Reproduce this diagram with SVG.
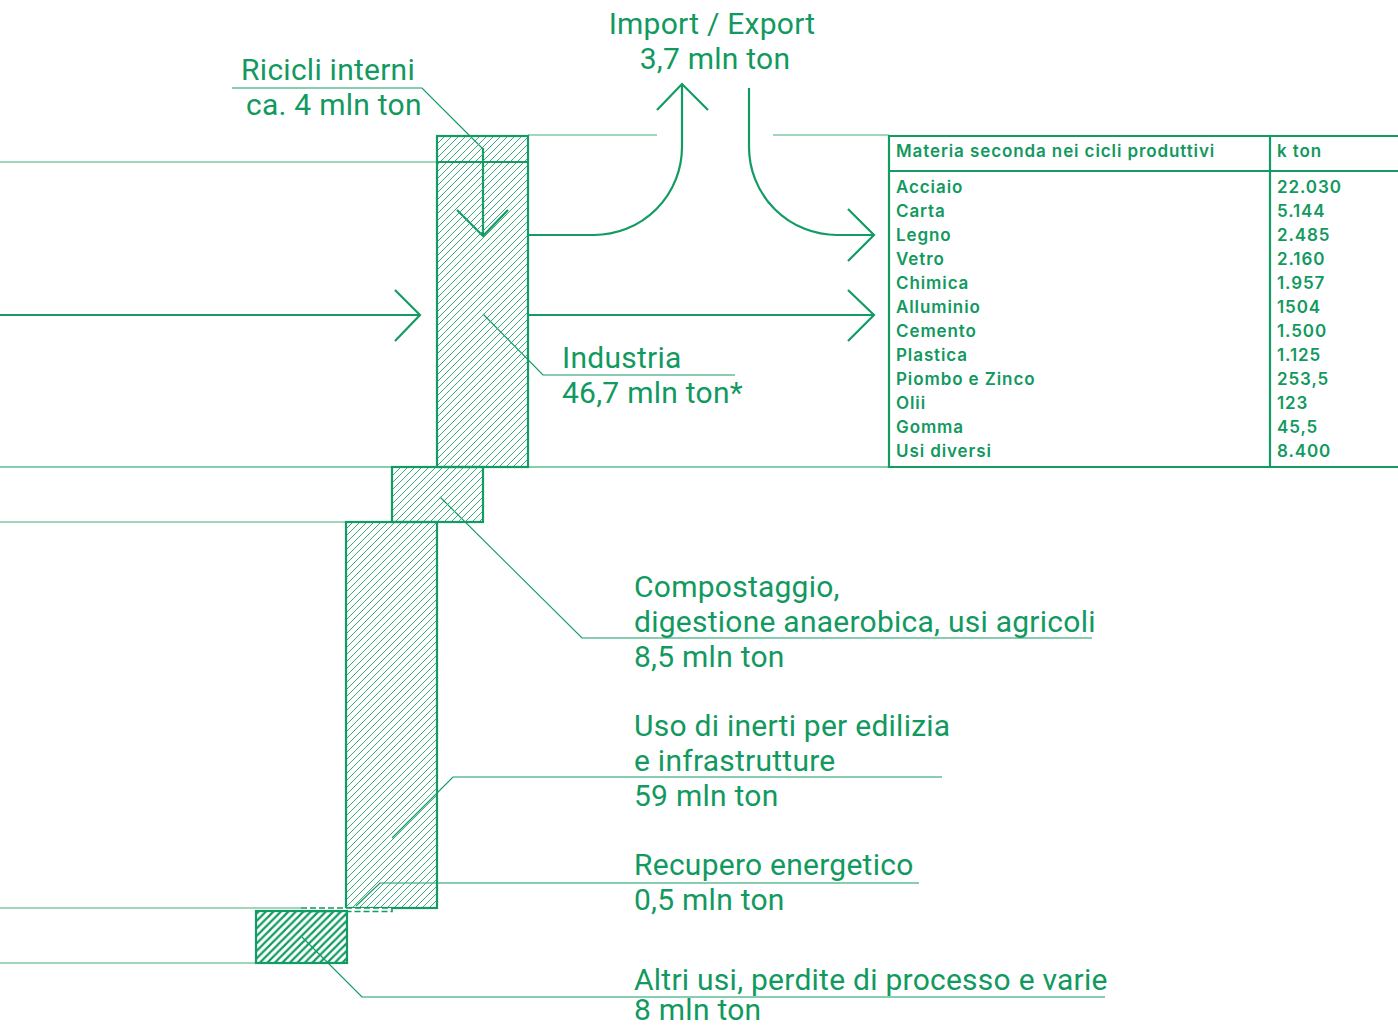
<svg xmlns="http://www.w3.org/2000/svg" width="1398" height="1026" viewBox="0 0 1398 1026">
<style>
.lbl{font-family:Roboto,"Liberation Sans",sans-serif;font-size:30px;letter-spacing:0.25px;fill:#12995f}
.tb{font-family:Inter,"Liberation Sans",sans-serif;font-size:17px;font-weight:600;letter-spacing:0.9px;fill:#12995f}
.thin{stroke:#129b63;stroke-width:1.2;fill:none}
.light{stroke:#7fc8a6;stroke-width:1.5;fill:none}
.arr{stroke:#129b63;stroke-width:2.2;fill:none}
.box{stroke:#129b63;stroke-width:2.2}
</style>
<defs>
<pattern id="h1" patternUnits="userSpaceOnUse" width="7" height="7">
<path d="M-1,8 L8,-1 M-1,1 L1,-1 M6,8 L8,6" stroke="#3aab7c" stroke-width="1"/>
</pattern>
<pattern id="h2" patternUnits="userSpaceOnUse" width="7.5" height="7.5">
<path d="M-1,8.5 L8.5,-1 M-1,1 L1,-1 M6.5,8.5 L8.5,6.5" stroke="#129b63" stroke-width="2.2"/>
</pattern>
</defs>
<g id="connectors">
<line class="light" x1="0" y1="162" x2="437" y2="162"/>
<line class="light" x1="528" y1="135" x2="657" y2="135"/>
<line class="light" x1="773" y1="135" x2="889" y2="135"/>
<line class="thin" x1="0" y1="467" x2="1398" y2="467"/>
<line class="light" x1="0" y1="522" x2="392" y2="522"/>
<line class="light" x1="0" y1="908" x2="301" y2="908"/>
<line class="light" x1="0" y1="963" x2="256" y2="963"/>
<path class="arr" d="M0,315 H420 M395,290 L420,315 L395,341"/>
<path class="arr" d="M528,315 H874 M848,290 L874,315 L848,341"/>
<path class="arr" d="M528,235 H594 A88,88 0 0 0 682,147 V84 M657,110 L682,84 L708,110"/>
<path class="arr" d="M749,88 V147 A88,88 0 0 0 837,235 H874 M848,209 L874,235 L848,261"/>
<path class="arr" d="M483,148 V236 M457,210 L483,236 L508,210"/>
<path class="thin" d="M232,88 H422 L483,149"/>
<path class="thin" d="M483,314 L543,375 H735"/>
<path class="thin" d="M440,497 L582,638 H1092"/>
<path class="thin" d="M392,838 L453,777 H942"/>
<path class="thin" d="M356,906 L380,883 H919"/>
<path class="thin" d="M302,937 L362,997 H1105"/>
</g>
<g id="industria">
<rect class="box" x="437" y="136" width="91" height="331" fill="url(#h1)"/>
<line class="box" x1="437" y1="162" x2="528" y2="162"/>
<text class="lbl" x="562" y="368">Industria</text>
<text class="lbl" x="562" y="403">46,7 mln ton*</text>
</g>
<g id="ricicli">
<text class="lbl" x="415" y="80" text-anchor="end">Ricicli interni</text>
<text class="lbl" x="246" y="115">ca. 4 mln ton</text>
</g>
<g id="importexport">
<text class="lbl" x="712" y="34" text-anchor="middle">Import / Export</text>
<text class="lbl" x="715" y="69" text-anchor="middle">3,7 mln ton</text>
</g>
<g id="compost">
<rect class="box" x="392" y="467" width="91" height="55" fill="url(#h1)"/>
<text class="lbl" x="634" y="597">Compostaggio,</text>
<text class="lbl" x="634" y="632">digestione anaerobica, usi agricoli</text>
<text class="lbl" x="634" y="667">8,5 mln ton</text>
</g>
<g id="inerti">
<rect class="box" x="346" y="522" width="91" height="386" fill="url(#h1)"/>
<text class="lbl" x="634" y="736">Uso di inerti per edilizia</text>
<text class="lbl" x="634" y="771">e infrastrutture</text>
<text class="lbl" x="634" y="806">59 mln ton</text>
</g>
<g id="recupero">
<rect x="301" y="908" width="91" height="3.5" fill="#fff" stroke="#129b63" stroke-width="1.6" stroke-dasharray="6,3"/>
<text class="lbl" x="634" y="875">Recupero energetico</text>
<text class="lbl" x="634" y="910">0,5 mln ton</text>
</g>
<g id="altri">
<rect class="box" x="256" y="911" width="91" height="52" fill="url(#h2)"/>
<text class="lbl" x="634" y="990">Altri usi, perdite di processo e varie</text>
<text class="lbl" x="634" y="1020">8 mln ton</text>
</g>
<g id="table">
<path class="box" fill="none" d="M1398,136 H889 V467 H1398 M889,171 H1398 M1270,136 V467"/>
<text class="tb" x="896" y="157">Materia seconda nei cicli produttivi</text>
<text class="tb" x="1277" y="157">k ton</text>
<text class="tb" x="896" y="193">Acciaio</text><text class="tb" x="1277" y="193">22.030</text>
<text class="tb" x="896" y="217">Carta</text><text class="tb" x="1277" y="217">5.144</text>
<text class="tb" x="896" y="241">Legno</text><text class="tb" x="1277" y="241">2.485</text>
<text class="tb" x="896" y="265">Vetro</text><text class="tb" x="1277" y="265">2.160</text>
<text class="tb" x="896" y="289">Chimica</text><text class="tb" x="1277" y="289">1.957</text>
<text class="tb" x="896" y="313">Alluminio</text><text class="tb" x="1277" y="313">1504</text>
<text class="tb" x="896" y="337">Cemento</text><text class="tb" x="1277" y="337">1.500</text>
<text class="tb" x="896" y="361">Plastica</text><text class="tb" x="1277" y="361">1.125</text>
<text class="tb" x="896" y="385">Piombo e Zinco</text><text class="tb" x="1277" y="385">253,5</text>
<text class="tb" x="896" y="409">Olii</text><text class="tb" x="1277" y="409">123</text>
<text class="tb" x="896" y="433">Gomma</text><text class="tb" x="1277" y="433">45,5</text>
<text class="tb" x="896" y="457">Usi diversi</text><text class="tb" x="1277" y="457">8.400</text>
</g>
</svg>
